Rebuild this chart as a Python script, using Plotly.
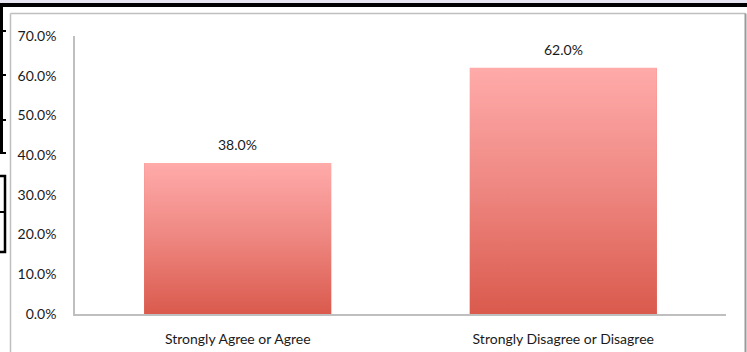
import plotly.graph_objects as go

categories = ["Strongly Agree or Agree", "Strongly Disagree or Disagree"]
values = [38.0, 62.0]
y_ticks = [0, 10, 20, 30, 40, 50, 60, 70]
y_tick_labels = ["0.0%", "10.0%", "20.0%", "30.0%", "40.0%", "50.0%", "60.0%", "70.0%"]

W, H = 747, 352
BAR_W = 0.575
FONT = "Lato, Carlito, Calibri, sans-serif"
FS = 14
TXT = "#1a1a1a"


def px(x):
    return x / W


def py(y):
    return 1 - y / H


fig = go.Figure()
xs = list(range(len(categories)))

# base bars (solid) for data
fig.add_trace(go.Bar(x=xs, y=values, width=BAR_W, marker=dict(color="#EC7F78", line=dict(width=0)),
                     hovertext=categories, showlegend=False))

# gradient overlay for each bar derived from data
for i, v in zip(xs, values):
    x0, x1 = i - BAR_W / 2, i + BAR_W / 2
    fig.add_trace(go.Scatter(
        x=[x0, x1, x1, x0, x0], y=[0, 0, v, v, 0], mode="lines", fill="toself",
        line=dict(width=0), showlegend=False, hoverinfo="skip",
        fillgradient=dict(type="vertical", start=0, stop=v,
                          colorscale=[[0, "#DA5A4D"], [0.5, "#EE8680"], [1, "#FFABAA"]]),
    ))

for i, v in zip(xs, values):
    fig.add_annotation(x=i, y=v, text=f"{v:.1f}%", showarrow=False, yanchor="bottom", yshift=8,
                       font=dict(family=FONT, size=FS, color=TXT))

shapes = []
# document decoration
shapes.append(dict(type="rect", xref="paper", yref="paper", x0=0, x1=1, y0=py(3), y1=1,
                   fillcolor="#E7E5F1", line=dict(width=0), layer="below"))
shapes.append(dict(type="rect", xref="paper", yref="paper", x0=0, x1=1, y0=py(7), y1=py(3),
                   fillcolor="black", line=dict(width=0)))
shapes.append(dict(type="rect", xref="paper", yref="paper", x0=0, x1=px(3), y0=py(154), y1=py(7),
                   fillcolor="black", line=dict(width=0)))
for yy in [31, 75, 120, 153]:
    shapes.append(dict(type="line", xref="paper", yref="paper", x0=0, x1=px(6), y0=py(yy), y1=py(yy),
                       line=dict(color="black", width=2)))
shapes.append(dict(type="rect", xref="paper", yref="paper", x0=px(-2), x1=px(5), y0=py(252), y1=py(176),
                   line=dict(color="black", width=2.5), fillcolor="rgba(0,0,0,0)"))
shapes.append(dict(type="line", xref="paper", yref="paper", x0=0, x1=px(5), y0=py(212), y1=py(212),
                   line=dict(color="black", width=2)))
# chart area border
shapes.append(dict(type="line", xref="paper", yref="paper", x0=px(10.5), x1=px(10.5), y0=0, y1=py(13.5),
                   line=dict(color="#BFBFBF", width=1.5)))
shapes.append(dict(type="line", xref="paper", yref="paper", x0=px(10.5), x1=px(745.5), y0=py(13.5), y1=py(13.5),
                   line=dict(color="#BFBFBF", width=1.5)))
shapes.append(dict(type="line", xref="paper", yref="paper", x0=px(745.5), x1=px(745.5), y0=0, y1=py(13.5),
                   line=dict(color="#9A9A9A", width=2)))

fig.update_layout(
    width=W, height=H,
    margin=dict(l=0, r=0, t=0, b=0, autoexpand=False),
    paper_bgcolor="white", plot_bgcolor="white",
    shapes=shapes,
    bargap=0,
    xaxis=dict(domain=[px(75), px(726)], range=[-0.5, 1.5], tickvals=xs, ticktext=categories,
               showgrid=False, zeroline=False, showline=True, linecolor="#BFBFBF", linewidth=1.5,
               ticks="", ticklabelstandoff=11, tickfont=dict(family=FONT, size=FS, color=TXT),
               fixedrange=True, automargin=False),
    yaxis=dict(domain=[py(314), py(36)], range=[0, 70], tickvals=y_ticks, ticktext=y_tick_labels,
               showgrid=False, zeroline=False, showline=True, linecolor="#BFBFBF", linewidth=1.5,
               ticks="", ticklabelstandoff=14, tickfont=dict(family=FONT, size=FS, color=TXT),
               fixedrange=True, automargin=False),
    showlegend=False,
)

post = (
    "var s=document.createElement('style');"
    "s.textContent='html,body{margin:0!important;padding:0!important;overflow:hidden!important;}';"
    "document.head.appendChild(s);"
)
fig.write_html("out.html", config={"displayModeBar": False}, post_script=post)
